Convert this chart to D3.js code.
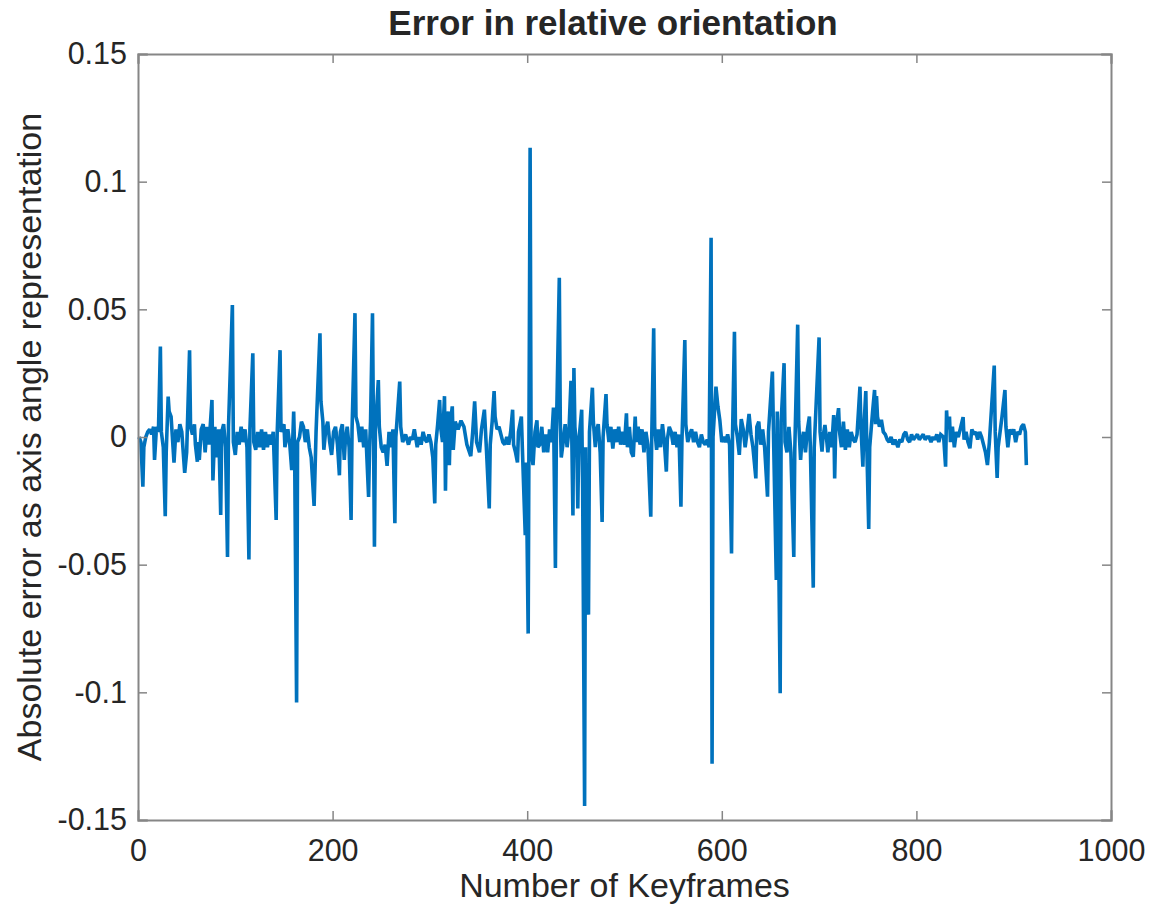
<!DOCTYPE html>
<html>
<head>
<meta charset="utf-8">
<script src="https://cdnjs.cloudflare.com/ajax/libs/d3/7.8.5/d3.min.js"></script>
<style>
body { margin: 0; background: #fff; }
text { font-family: "Liberation Sans", Arial, sans-serif; fill: #262626; }
.axis path, .axis line { stroke: #868686; }
</style>
</head>
<body>
<script>
/* values: keyframe index and error */
var keyframes = [1,3,5,6,8,10,12,14,16,17,19,21,23,24,26,28,29,31,32,34,36,37,39,41,43,45,48,50,53,54,56,58,59,61,62,63,65,67,69,71,73,76,77,79,81,83,85,86,88,90,92,93,97,98,100,102,104,106,108,110,112,114,115,118,119,121,123,125,127,129,131,133,135,137,139,142,143,146,147,150,151,154,156,158,160,161,163,164,166,168,170,172,174,176,178,181,183,187,188,190,191,193,195,197,199,201,203,205,207,208,210,212,213,215,217,219,220,223,224,226,228,230,232,234,237,238,239,241,243,244,247,248,250,252,254,256,258,260,262,264,265,269,270,272,275,278,280,282,284,287,289,291,293,295,297,299,301,303,305,306,308,310,311,313,315,316,317,319,320,321,323,324,326,329,332,335,338,342,344,346,348,351,353,356,358,361,362,364,366,367,369,371,373,375,377,379,381,383,385,386,388,390,391,394,395,398,399,401,403,404,406,408,410,411,413,415,417,419,421,423,425,427,429,430,433,434,435,437,439,441,443,445,447,448,449,451,452,453,456,457,459,460,461,463,464,467,468,470,471,473,475,477,478,481,482,484,486,488,490,492,494,496,498,500,502,503,505,507,509,511,512,514,516,518,520,522,524,527,528,530,531,533,535,537,539,541,543,544,546,548,550,552,554,556,558,559,562,563,565,567,569,571,573,575,577,579,581,583,585,587,589,590,591,594,596,598,600,602,604,606,608,610,611,613,614,616,618,620,622,624,626,628,630,632,635,636,638,640,642,644,647,648,652,653,656,657,660,661,664,665,667,669,671,674,675,678,679,681,682,684,686,688,690,691,694,695,700,701,703,704,706,708,709,711,713,715,716,717,720,721,723,725,727,729,731,733,735,737,739,742,743,745,746,748,749,751,752,755,757,758,759,760,762,764,766,768,770,772,774,776,778,781,783,785,787,789,791,793,795,797,799,801,803,805,807,809,811,813,815,817,819,821,823,825,828,830,831,832,834,835,837,839,841,843,845,848,849,851,853,855,857,859,861,863,865,867,869,871,873,875,880,881,883,884,888,891,892,894,896,898,900,902,904,906,908,910,912,913]
var errors = [0.000,-0.002,-0.0195,-0.004,0.000,0.002,0.003,0.001,0.004,-0.009,0.004,0.002,0.0354,0.002,-0.004,-0.031,-0.006,0.0158,0.010,0.008,-0.004,-0.010,0.003,-0.002,0.005,0.002,-0.014,-0.006,0.034,0.004,0.001,0.005,-0.003,-0.0097,-0.002,-0.009,0.003,0.005,-0.006,0.004,-0.003,0.0145,-0.017,0.004,-0.008,0.003,-0.0305,0.002,0.005,-0.004,-0.047,0.004,0.0517,-0.002,-0.007,0.002,-0.003,0.004,-0.002,0.003,-0.004,-0.048,0.003,0.0328,-0.002,-0.005,0.002,-0.004,0.003,-0.005,0.002,-0.004,0.001,-0.003,0.002,-0.0325,0.001,0.034,0.002,0.005,-0.004,0.003,-0.003,-0.013,0.010,-0.006,-0.104,-0.002,0.000,0.006,0.004,-0.002,0.003,-0.004,-0.008,-0.027,0.002,0.0406,0.014,0.006,-0.005,0.003,0.006,-0.002,-0.007,0.002,0.004,-0.003,-0.015,0.002,0.005,-0.009,-0.002,0.004,-0.004,-0.0325,0.003,0.0485,0.008,0.005,-0.002,0.004,-0.004,0.003,-0.0235,-0.004,0.006,0.0485,-0.043,0.003,0.0223,0.004,-0.004,-0.006,-0.003,-0.0113,0.002,-0.004,0.003,-0.0338,0.000,0.0217,0.004,-0.002,0.001,-0.003,0.000,-0.001,0.003,-0.004,0.000,-0.003,0.002,-0.001,-0.002,0.001,-0.002,-0.008,-0.026,-0.003,0.005,0.0145,0.004,-0.002,0.016,-0.021,0.004,0.010,-0.011,0.005,0.012,-0.005,0.006,0.003,0.0064,0.004,-0.003,-0.0075,0.002,0.014,-0.002,-0.006,0.003,0.0107,-0.004,-0.028,-0.003,0.006,0.018,0.008,0.003,0.004,0.001,-0.002,-0.003,0.000,-0.003,0.002,0.0107,-0.003,-0.006,-0.010,0.002,0.008,-0.004,-0.0385,-0.010,-0.077,0.1133,-0.005,-0.011,0.002,0.0065,-0.004,-0.003,0.004,-0.006,0.001,-0.006,0.003,-0.002,0.0115,-0.0513,0.002,0.0624,0.006,-0.008,-0.002,0.005,-0.004,0.003,0.022,-0.0307,0.027,0.004,-0.005,-0.028,-0.002,0.0107,-0.020,-0.1445,-0.004,-0.060,-0.0696,0.002,0.0193,0.006,-0.004,0.002,0.005,-0.006,-0.0333,0.000,0.0168,0.005,-0.002,0.004,-0.0045,0.003,-0.002,0.004,-0.003,0.002,-0.003,0.0093,-0.004,0.004,-0.006,-0.0077,0.008,-0.002,0.004,-0.003,0.003,-0.006,0.002,-0.003,-0.0312,0.000,0.0426,0.004,-0.005,0.003,-0.004,0.005,-0.002,-0.0136,-0.001,0.004,0.002,-0.003,0.002,-0.004,0.001,-0.0273,-0.002,0.038,0.005,-0.002,0.001,0.003,-0.002,0.002,-0.002,-0.004,0.001,-0.002,-0.003,-0.001,-0.004,0.078,-0.128,0.000,0.0197,0.012,0.0065,-0.002,0.000,-0.002,0.001,-0.003,-0.0456,0.000,0.0412,0.005,0.000,-0.007,0.007,0.003,-0.004,0.002,0.009,0.001,-0.004,-0.0162,0.004,0.006,-0.003,0.003,-0.004,-0.0234,0.002,0.0256,0.004,-0.056,0.010,-0.1004,0.006,0.0289,-0.002,-0.006,0.004,-0.006,-0.047,-0.005,0.044,0.006,-0.009,-0.003,0.002,-0.006,0.003,0.008,-0.004,-0.059,-0.004,0.039,0.002,-0.0057,0.000,0.0047,-0.002,-0.006,0.002,-0.004,0.0086,-0.0162,0.002,0.0113,0.002,-0.004,0.006,-0.005,0.003,-0.004,0.002,-0.001,-0.002,0.001,0.0197,0.004,-0.0116,0.003,0.018,-0.003,-0.036,-0.004,0.010,0.0184,0.005,0.016,0.008,0.004,0.0067,0.002,0.001,-0.001,-0.002,0.000,-0.003,-0.001,-0.004,-0.001,-0.002,0.001,0.002,-0.001,-0.002,0.001,-0.001,0.000,0.001,-0.001,0.000,0.001,-0.001,0.000,0.000,-0.002,0.000,-0.001,0.001,-0.002,0.001,0.000,-0.0116,0.0104,0.003,0.008,-0.002,0.004,-0.004,0.002,0.000,0.003,0.0078,-0.001,0.002,-0.002,-0.0044,0.003,0.001,0.002,-0.001,0.002,0.000,-0.003,-0.006,-0.011,-0.002,0.028,0.002,-0.016,-0.004,0.008,0.0184,0.004,-0.004,0.003,0.001,0.003,-0.002,0.002,0.001,0.004,0.005,0.002,-0.011]

var xTicks = [0, 200, 400, 600, 800, 1000]
var xTickLabels = ["0", "200", "400", "600", "800", "1000"]
var yTicks = [0.15, 0.1, 0.05, 0, -0.05, -0.1, -0.15]
var yTickLabels = ["0.15", "0.1", "0.05", "0", "-0.05", "-0.1", "-0.15"]

var width = 1159, height = 914
var plotLeft = 138, plotRight = 1111, plotTop = 54, plotBottom = 820

var svg = d3.select("body").append("svg")
	.attr("width", width)
	.attr("height", height)

var xScale = d3.scaleLinear().domain([0, 1000]).range([plotLeft, plotRight])
var yScale = d3.scaleLinear().domain([-0.15, 0.15]).range([plotBottom, plotTop])

var points = keyframes.map(function(k, i){ return [k, errors[i]] })

/*the series*/
var line = d3.line()
	.x(function(d){ return xScale(d[0]) })
	.y(function(d){ return yScale(d[1]) })

svg.append("path")
	.datum(points)
	.attr("fill", "none")
	.attr("stroke", "#0072BD")
	.attr("stroke-width", 3.6)
	.attr("stroke-linejoin", "miter")
	.attr("stroke-miterlimit", 2)
	.attr("d", line)

/*axes, ticks pointing inwards like matlab*/
var xAxis = d3.axisBottom(xScale).tickValues(xTicks).tickSize(-9).tickPadding(19)
	.tickFormat(function(d, i){ return xTickLabels[i] })
var yAxis = d3.axisLeft(yScale).tickValues(yTicks).tickSize(-9).tickPadding(11)
	.tickFormat(function(d, i){ return yTickLabels[i] })

svg.append("g").attr("class", "axis")
	.attr("transform", "translate(0," + plotBottom + ")")
	.call(xAxis)
svg.append("g").attr("class", "axis")
	.attr("transform", "translate(" + plotLeft + ",0)")
	.call(yAxis)
svg.append("g").attr("class", "axis")
	.attr("transform", "translate(0," + plotTop + ")")
	.call(d3.axisTop(xScale).tickValues(xTicks).tickSize(-9).tickFormat(""))
svg.append("g").attr("class", "axis")
	.attr("transform", "translate(" + plotRight + ",0)")
	.call(d3.axisRight(yScale).tickValues(yTicks).tickSize(-9).tickFormat(""))

svg.selectAll(".axis path").attr("stroke-width", 2).attr("stroke-linecap", "square")
svg.selectAll(".axis line").attr("stroke-width", 1.5)
svg.selectAll(".axis text")
	.attr("font-family", "Liberation Sans, Arial, sans-serif")
	.attr("font-size", 30.5)
	.attr("fill", "#262626")

svg.append("text")
	.attr("x", (plotLeft + plotRight) / 2)
	.attr("y", 897)
	.attr("text-anchor", "middle")
	.attr("font-size", 34)
	.text("Number of Keyframes")

svg.append("text")
	.attr("transform", "translate(41," + ((plotTop + plotBottom) / 2) + ") rotate(-90)")
	.attr("text-anchor", "middle")
	.attr("font-size", 34)
	.text("Absolute error as axis angle representation")

svg.append("text")
	.attr("x", 613)
	.attr("y", 35)
	.attr("text-anchor", "middle")
	.attr("font-size", 35)
	.attr("font-weight", "bold")
	.attr("fill", "#000")
	.text("Error in relative orientation")
</script>
</body>
</html>
